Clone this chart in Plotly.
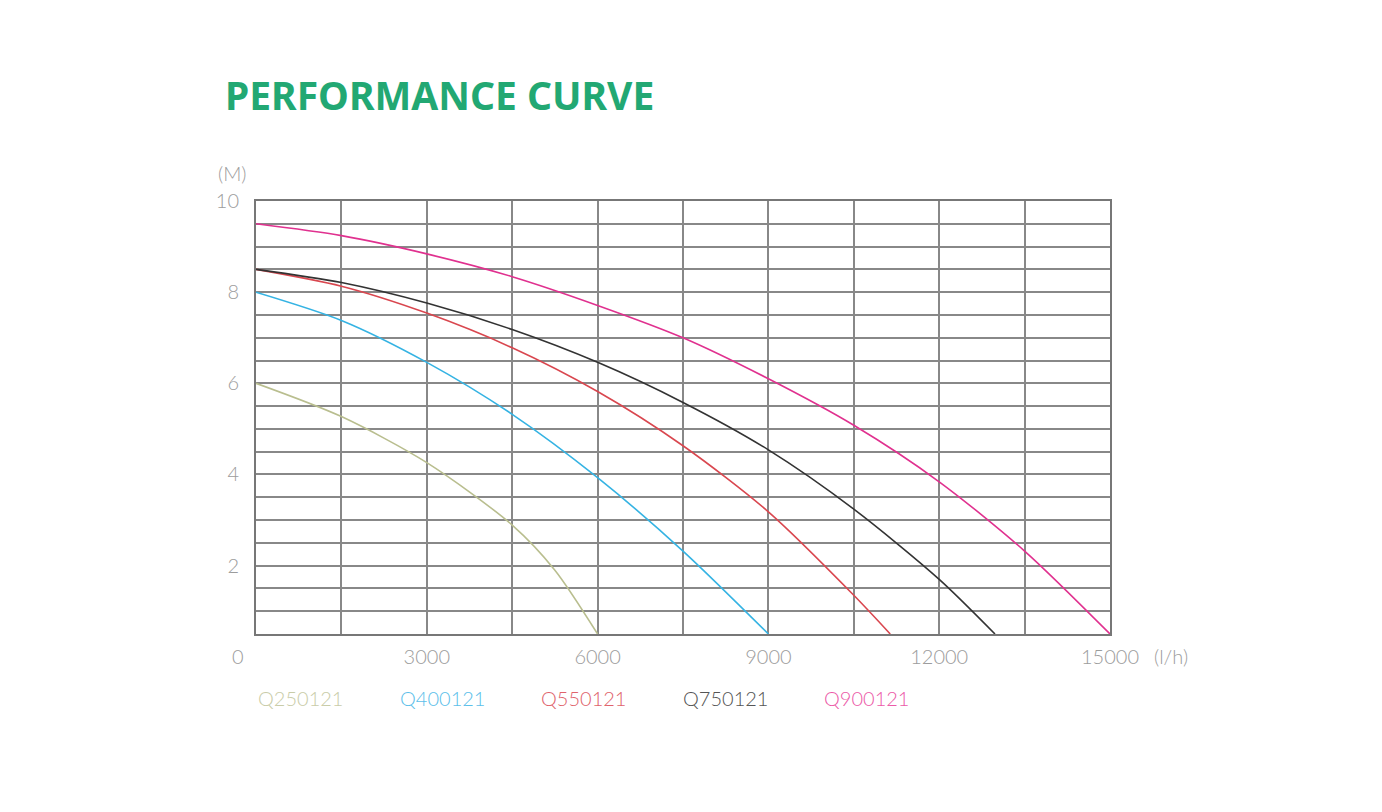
import plotly.graph_objects as go

# Flow (l/h) and head (M)
flow_q250 = [0, 1500, 3000, 4500, 5250, 6000]
head_q250 = [6.0, 5.27, 4.26, 2.89, 1.9, 0.5]

flow_q400 = [0, 1500, 3000, 4500, 6000, 7500, 9000]
head_q400 = [8.0, 7.38, 6.46, 5.32, 3.93, 2.32, 0.5]

flow_q550 = [0, 1500, 3000, 4500, 6000, 7500, 9000, 10500, 11140]
head_q550 = [8.5, 8.13, 7.54, 6.78, 5.82, 4.63, 3.18, 1.35, 0.5]

flow_q750 = [0, 1500, 3000, 4500, 6000, 7500, 9000, 10500, 12000, 12980]
head_q750 = [8.5, 8.21, 7.76, 7.18, 6.46, 5.58, 4.54, 3.24, 1.70, 0.5]

flow_q900 = [0, 1500, 3000, 4500, 6000, 7500, 9000, 10500, 12000, 13500, 15000]
head_q900 = [9.5, 9.24, 8.84, 8.34, 7.71, 7.0, 6.1, 5.08, 3.84, 2.32, 0.5]

series_names = ["Q250121", "Q400121", "Q550121", "Q750121", "Q900121"]
line_colors = ["#b9be8f", "#35b3e3", "#d9474f", "#333333", "#e0318f"]
label_colors = ["#c9cca8", "#5cc0ea", "#e0636c", "#555555", "#ec5aa8"]

x_ticks = [i * 1500 for i in range(11)]
x_labels = ["" if (v == 0 or v % 3000) else str(v) for v in x_ticks]
y_ticks = [0.5 * i for i in range(1, 21)]
y_labels = [str(int(v)) if (v % 2 == 0) else "" for v in y_ticks]

flows = [flow_q250, flow_q400, flow_q550, flow_q750, flow_q900]
heads = [head_q250, head_q400, head_q550, head_q750, head_q900]

fig = go.Figure()
for name, xs, ys, c in zip(series_names, flows, heads, line_colors):
    fig.add_trace(go.Scatter(x=xs, y=ys, mode="lines", name=name,
                             line=dict(color=c, width=1.6, shape="spline", smoothing=0.8),
                             showlegend=False))

tick_font = dict(family="Lato, Roboto, sans-serif", size=20, color="#9c9c9c", weight=300)

# page body has an 8px offset, plot area lands at x 256..1110, y 201..634
fig.update_layout(
    width=1382, height=812,
    margin=dict(l=248, r=280, t=193, b=186),
    paper_bgcolor="white", plot_bgcolor="white",
    xaxis=dict(range=[0, 15000], tickvals=x_ticks, ticktext=x_labels,
               showgrid=True, gridcolor="#888888", gridwidth=1.7,
               showline=True, linecolor="#777777", linewidth=2, mirror=True,
               zeroline=False, ticks="", tickfont=tick_font, ticklabelstandoff=4),
    yaxis=dict(range=[0.5, 10], tickvals=y_ticks, ticktext=y_labels,
               showgrid=True, gridcolor="#888888", gridwidth=1.7,
               showline=True, linecolor="#777777", linewidth=2, mirror=True,
               zeroline=False, ticks="", tickfont=tick_font, ticklabelstandoff=11),
)

annotations = [
    dict(text="PERFORMANCE CURVE", xref="paper", yref="paper",
         x=(223 - 256) / 854, y=(634 - 94) / 433, xanchor="left", yanchor="middle",
         showarrow=False, font=dict(family="Noto Sans, Open Sans, sans-serif", size=39,
                                    color="#22a873", weight="bold")),
    dict(text="(M)", xref="paper", yref="paper", x=(232 - 256) / 854, y=(634 - 173) / 433,
         xanchor="center", yanchor="middle", showarrow=False, font=tick_font),
    dict(text="0", xref="paper", yref="paper", x=(238 - 256) / 854, y=(634 - 656) / 433,
         xanchor="center", yanchor="middle", showarrow=False, font=tick_font),
    dict(text="(l/h)", xref="paper", yref="paper", x=(1152 - 256) / 854, y=(634 - 656) / 433,
         xanchor="left", yanchor="middle", showarrow=False, font=tick_font),
]
for i, (name, c) in enumerate(zip(series_names, label_colors)):
    annotations.append(dict(text=name, xref="paper", yref="paper",
                            x=(256 + 141.5 * i - 256) / 854, y=(634 - 698) / 433,
                            xanchor="left", yanchor="middle", showarrow=False,
                            font=dict(family="Lato, Roboto, sans-serif", size=20,
                                      color=c, weight=300)))
fig.update_layout(annotations=annotations)

fig.write_html("out.html")
